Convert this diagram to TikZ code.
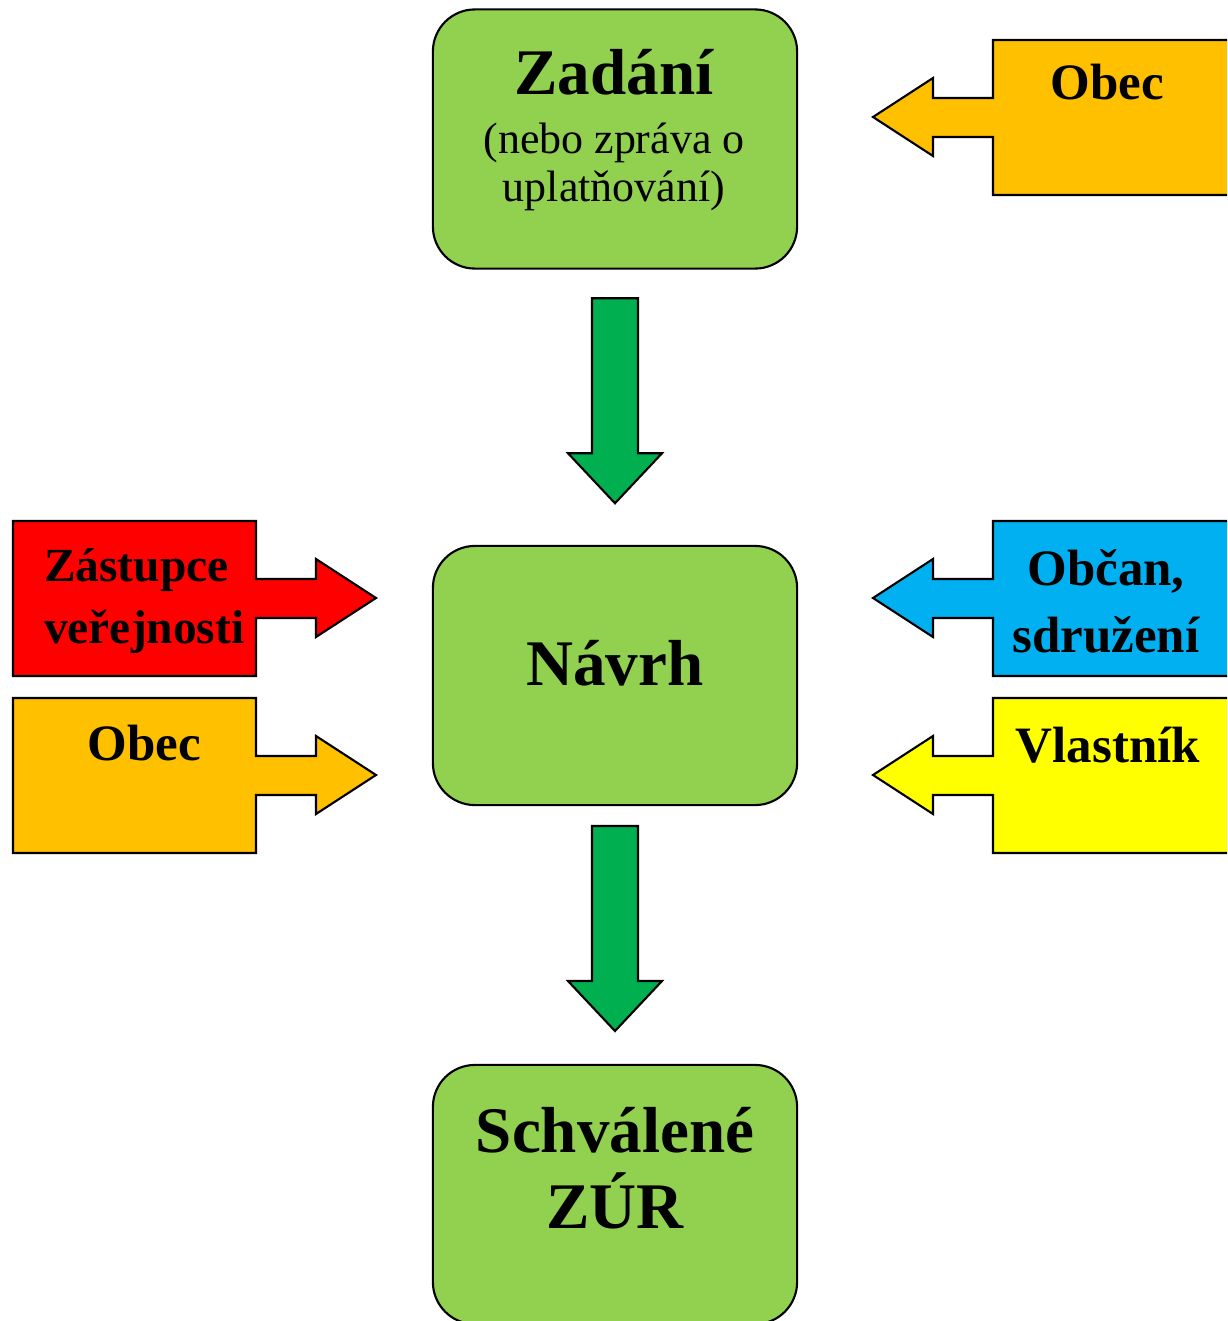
\documentclass[tikz,border=0pt]{standalone}
\usepackage{fontspec}
\setmainfont{Liberation Serif}
\usetikzlibrary{calc}
\definecolor{boxgreen}{HTML}{92D050}
\definecolor{arrgreen}{HTML}{00B050}
\definecolor{obecorange}{HTML}{FFC000}
\definecolor{zastred}{HTML}{FF0000}
\definecolor{obcanblue}{HTML}{00B0F0}
\definecolor{vlastyellow}{HTML}{FFFF00}
\tikzset{box/.style={draw,fill=boxgreen,rounded corners=.42cm,minimum width=3.64cm,minimum height=2.59cm,line width=.6pt},
  big/.style={font=\fontsize{18.5}{21.6}\selectfont\bfseries,align=center,anchor=base,inner sep=0pt},
  small/.style={font=\fontsize{12.5}{13.65}\selectfont,align=center,anchor=base,inner sep=0pt},
  side/.style={font=\fontsize{14.5}{19}\selectfont\bfseries,align=center,anchor=base,inner sep=0pt}}
% block arrows
\tikzset{down/.pic={\path[pic actions] (-23,-109) -- (23,-109) -- (23,46) -- (47,46) -- (0,96) -- (-47,46) -- (-23,46) -- cycle;},
  callin/.pic={\path[pic actions] (300,0) -- (0,0) -- (0,58) -- (-60,58) -- (-60,38) -- (-120,77) -- (-60,116) -- (-60,97) -- (0,97) -- (0,155) -- (300,155) -- cycle;},
  callout/.pic={\path[pic actions] (-243,0) -- (0,0) -- (0,58) -- (60,58) -- (60,38) -- (120,77) -- (60,116) -- (60,97) -- (0,97) -- (0,155) -- (-243,155) -- cycle;}}

\begin{document}
\begin{tikzpicture}[x=0.01cm,y=-0.01cm,line width=.6pt]
  \useasboundingbox (0,0) rectangle (1227,1321);
  \clip (0,0) rectangle (1227,1321);
  \node[box] (zadani) at (615,139) {};
  \node[box] (navrh) at (615,675.5) {};
  \node[box] (zur) at (615,1194.5) {};
  \pic[draw,fill=arrgreen] at ($(zadani.south)!.5!(navrh.north)$) {down};
  \pic[draw,fill=arrgreen] at ($(navrh.south)!.5!(zur.north)$) {down};
  % participants
  \pic[draw,fill=obecorange] at (993,40) {callin};
  \pic[draw,fill=obcanblue] at (993,521) {callin};
  \pic[draw,fill=vlastyellow] at (993,698) {callin};
  \pic[draw,fill=zastred] at (256,521) {callout};
  \pic[draw,fill=obecorange] at (256,698) {callout};
  % texts (base = last line)
  \node[big] (tzadani) at (614,94) {Zadání};
  \node[small] (tzprava) at (614,201) {(nebo zpráva o\\uplatňování)};
  \node[big] (tnavrh) at (615,685) {Návrh};
  \node[big] (tzur) at (615,1228) {Schválené\\ZÚR};
  \node[side] (tobec1) at (1107,100) {Obec};
  \node[side,font=\fontsize{13.5}{17.4}\selectfont\bfseries,align=left,anchor=base west] (tzast) at (43,643) {Zástupce\\veřejnosti};
  \node[side] (tobec2) at (144,760) {Obec};
  \node[side] (tobcan) at (1106,652) {Občan,\\sdružení};
  \node[side] (tvlast) at (1108,762) {Vlastník};
\end{tikzpicture}
\end{document}
